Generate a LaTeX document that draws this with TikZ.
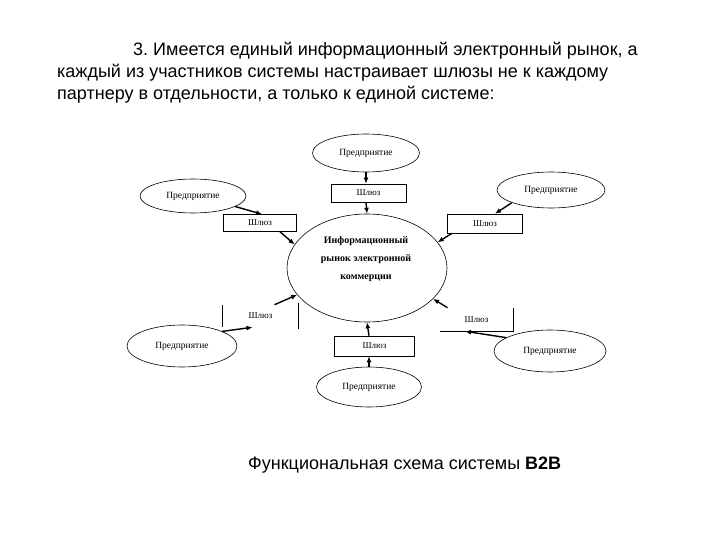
\documentclass[tikz,border=0pt]{standalone}
\usepackage{fontspec}
\setmainfont{Liberation Serif}
\newfontfamily\arialf{Liberation Sans}
\usetikzlibrary{shapes.geometric,arrows.meta}
\frenchspacing
\begin{document}
\begin{tikzpicture}[x=1pt,y=-1pt,
  ent/.style={draw,ellipse,inner sep=0pt,line width=0.6pt,font=\fontsize{9.5}{11}\selectfont},
  gate/.style={draw,rectangle,inner sep=0pt,line width=0.6pt,font=\fontsize{9}{11}\selectfont},
  arr/.style={-{Latex[length=6pt,width=5pt]},line width=1.4pt},
  headtxt/.style={anchor=base west,inner sep=0pt,font=\arialf\fontsize{18}{21}\selectfont}]
\useasboundingbox (0,0) rectangle (720,540);
% heading
\node[headtxt] (h1) at (133,56) {3. Имеется единый информационный электронный рынок, а};
\node[headtxt] (h2) at (57,78) {каждый из участников системы настраивает шлюзы не к каждому};
\node[headtxt] (h3) at (57,100) {партнеру в отдельности, а только к единой системе:};
% centre
\node[draw,ellipse,minimum width=160pt,minimum height=108pt,inner sep=0pt,line width=0.6pt] (c) at (367,268) {};
\node[align=center,font=\bfseries\fontsize{10}{18}\selectfont] (ct) at (366,259) {Информационный\\рынок электронной\\коммерции};
% enterprises
\node[ent,minimum width=107pt,minimum height=38pt] (e1) at (366,153) {Предприятие};
\node[ent,minimum width=106pt,minimum height=34pt] (e2) at (193,196) {Предприятие};
\node[ent,minimum width=108pt,minimum height=36pt] (e3) at (551,190) {Предприятие};
\node[ent,minimum width=110pt,minimum height=42pt] (e4) at (182,346) {Предприятие};
\node[ent,minimum width=112pt,minimum height=42pt] (e5) at (550,351) {Предприятие};
\node[ent,minimum width=105pt,minimum height=40pt] (e6) at (369,387) {Предприятие};
% gateways
\node[gate,minimum width=75pt,minimum height=18pt] (g1) at (368.5,193) {Шлюз};
\node[gate,minimum width=73pt,minimum height=17pt] (g2) at (260,223) {Шлюз};
\node[gate,minimum width=75pt,minimum height=19pt] (g3) at (485,223.5) {Шлюз};
\node[gate,draw=none,minimum width=75pt,minimum height=22pt] (g4) at (260.5,316) {Шлюз};
\draw[line width=0.6pt] (g4.north west) -- (g4.south west);
\draw[line width=0.6pt] ([yshift=2pt]g4.north east) -- ([yshift=-2pt]g4.south east);
\node[gate,draw=none,minimum width=73pt,minimum height=23pt] (g5) at (476.5,319.5) {Шлюз};
\draw[line width=0.6pt] (g5.north east) -- (g5.south east) -- (g5.south west);
\node[gate,minimum width=80pt,minimum height=20pt] (g6) at (374.5,346) {Шлюз};
% arrows
\draw[arr] (e1.south) -- (e1.south |- g1.north);
\draw[arr] (e1.south |- g1.south) -- (c.north);
\draw[arr] (e2.-14) -- ([xshift=2pt]g2.north);
\draw[arr] ([xshift=20pt]g2.south) -- (c.162);
\draw[arr] (e3.198) -- ([xshift=10pt]g3.north);
\draw[arr] ([xshift=-33pt]g3.south) -- (c.20);
\draw[arr] (e4.20) -- ([xshift=-8pt]g4.south);
\draw[arr] ([xshift=14pt]g4.north) -- (c.201);
\draw[arr] (e5.163) -- ([xshift=-11.5pt]g5.south);
\draw[arr] ([xshift=-29pt]g5.north) -- (c.335);
\draw[arr] (e6.north) -- (e6.north |- g6.south);
\draw[arr] (e6.north |- g6.north) -- (c.south);
% caption
\node[anchor=base west,inner sep=0pt,font=\arialf\fontsize{18}{21}\selectfont] (cap) at (248,469) {Функциональная схема системы \textbf{В2В}};
\end{tikzpicture}
\end{document}
